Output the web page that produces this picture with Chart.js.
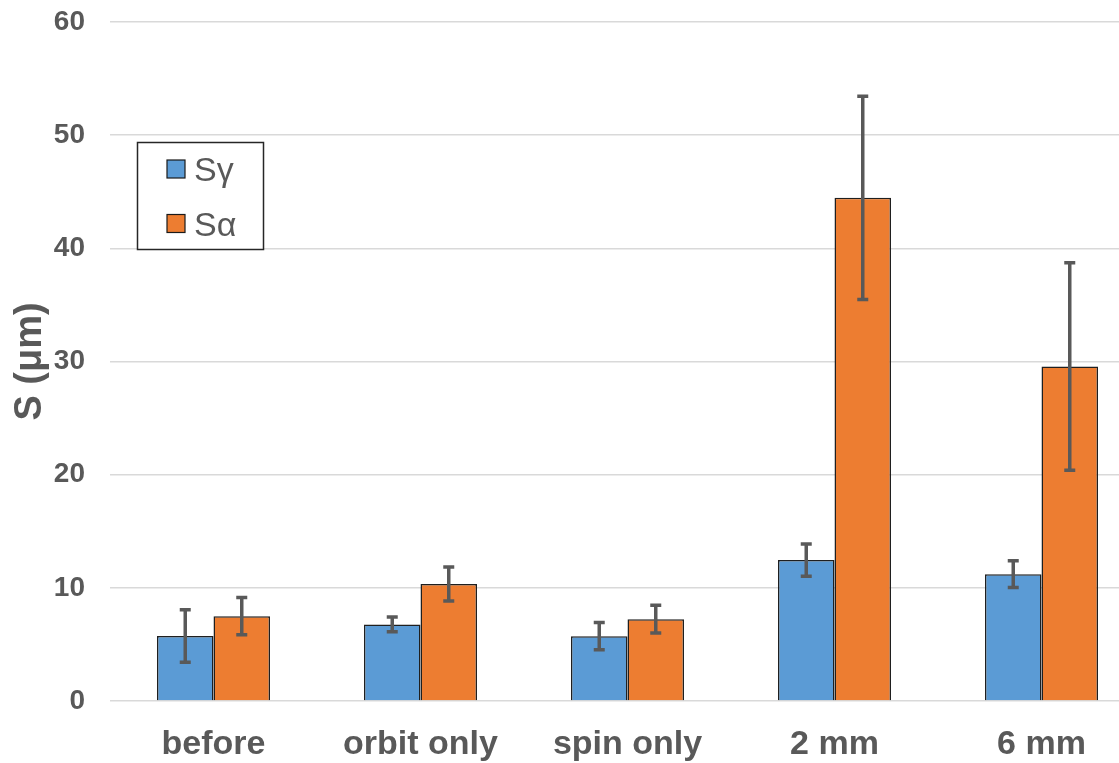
<!DOCTYPE html>
<html>
<head>
<meta charset="utf-8">
<script src="https://cdn.jsdelivr.net/npm/chart.js@4/dist/chart.umd.min.js"></script>
<style>
  html, body { margin: 0; padding: 0; background: #ffffff; overflow: hidden; }
  #wrap { width: 1119px; height: 763px; overflow: hidden; position: relative; }
  canvas { display: block; }
</style>
</head>
<body>
<div id="wrap"><canvas id="chart" width="1150" height="763"></canvas></div>
<script>
// Roughness parameters (µm) per processing condition
const categories = ['before', 'orbit only', 'spin only', '2 mm', '6 mm'];
const sGamma     = [5.75, 6.77, 5.73, 12.45, 11.21];
const sGammaErr  = [2.32, 0.66, 1.20, 1.42, 1.19];
const sAlpha     = [7.50, 10.33, 7.23, 44.46, 29.56];
const sAlphaErr  = [1.65, 1.50, 1.22, 8.98, 9.16];
const yTicks     = [0, 10, 20, 30, 40, 50, 60];

const BLUE = '#5B9BD5';
const ORANGE = '#ED7D31';
const GREY_TEXT = '#595959';
const FONT = '"Liberation Sans", Arial, sans-serif';

// Symmetric error bars drawn on top of each bar
const errorBars = {
  id: 'errorBars',
  afterDatasetsDraw(chart) {
    const ctx = chart.ctx;
    const y = chart.scales.y;
    ctx.save();
    ctx.strokeStyle = '#595959';
    ctx.lineCap = 'butt';
    chart.data.datasets.forEach((ds, di) => {
      const meta = chart.getDatasetMeta(di);
      meta.data.forEach((bar, i) => {
        const v = ds.data[i];
        const e = ds.errors[i];
        const yTop = y.getPixelForValue(v + e);
        const yBot = y.getPixelForValue(v - e);
        const x = bar.x;
        ctx.lineWidth = 3.5;
        ctx.beginPath();
        ctx.moveTo(x, yTop);
        ctx.lineTo(x, yBot);
        ctx.stroke();
        ctx.beginPath();
        ctx.moveTo(x - 5.5, yTop);
        ctx.lineTo(x + 5.5, yTop);
        ctx.moveTo(x - 5.5, yBot);
        ctx.lineTo(x + 5.5, yBot);
        ctx.stroke();
      });
    });
    ctx.restore();
  }
};

// Boxed legend inside the plot area
const boxLegend = {
  id: 'boxLegend',
  afterDraw(chart) {
    const ctx = chart.ctx;
    const left = 137.5, top = 142.5, w = 126, h = 107;
    ctx.save();
    ctx.fillStyle = '#ffffff';
    ctx.fillRect(left, top, w, h);
    ctx.strokeStyle = '#262626';
    ctx.lineWidth = 1.5;
    ctx.strokeRect(left, top, w, h);
    const rows = [169, 223.5];
    chart.data.datasets.forEach((ds, i) => {
      const cy = rows[i];
      ctx.fillStyle = ds.backgroundColor;
      ctx.fillRect(167, cy - 9, 18, 18);
      ctx.strokeStyle = '#1a1a1a';
      ctx.lineWidth = 1.2;
      ctx.strokeRect(167, cy - 9, 18, 18);
      ctx.fillStyle = GREY_TEXT;
      ctx.font = '34px ' + FONT;
      ctx.textBaseline = 'alphabetic';
      ctx.textAlign = 'left';
      ctx.fillText(ds.label, 194, cy + 12);
    });
    ctx.restore();
  }
};

new Chart(document.getElementById('chart'), {
  type: 'bar',
  data: {
    labels: categories,
    datasets: [
      {
        label: 'Sγ',
        data: sGamma,
        errors: sGammaErr,
        backgroundColor: BLUE,
        borderColor: '#1f1f1f',
        borderWidth: 1.5,
        categoryPercentage: 0.546,
        barPercentage: 1.0
      },
      {
        label: 'Sα',
        data: sAlpha,
        errors: sAlphaErr,
        backgroundColor: ORANGE,
        borderColor: '#1f1f1f',
        borderWidth: 1.5,
        categoryPercentage: 0.546,
        barPercentage: 1.0
      }
    ]
  },
  options: {
    responsive: false,
    devicePixelRatio: 1,
    animation: false,
    layout: { padding: { top: 22, right: 5, left: 0, bottom: 0 } },
    plugins: {
      legend: { display: false },
      tooltip: { enabled: false }
    },
    scales: {
      x: {
        grid: { display: false },
        border: { display: false },
        ticks: {
          color: GREY_TEXT,
          font: { family: FONT, size: 34, weight: 'bold' },
          padding: 15,
          maxRotation: 0
        },
        afterFit(scale) {
          scale.height = 62;
          scale.paddingLeft = 0;
          scale.paddingRight = 0;
        }
      },
      y: {
        min: 0,
        max: 60,
        afterBuildTicks(scale) { scale.ticks = yTicks.map(v => ({ value: v })); },
        grid: { color: '#d9d9d9', lineWidth: 1.5, drawTicks: false },
        border: { display: false },
        ticks: {
          color: GREY_TEXT,
          font: { family: FONT, size: 28, weight: 'bold' },
          padding: 25
        },
        title: {
          display: true,
          text: 'S (μm)',
          color: GREY_TEXT,
          font: { family: FONT, size: 38, weight: 'bold' },
          padding: { top: 8, bottom: 0 }
        },
        afterFit(scale) {
          scale.width = 110;
          scale.paddingTop = 0;
          scale.paddingBottom = 0;
        }
      }
    }
  },
  plugins: [errorBars, boxLegend]
});
</script>
</body>
</html>
